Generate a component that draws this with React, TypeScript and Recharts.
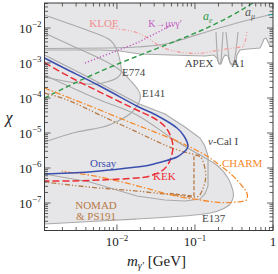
import React from 'react';
import { ComposedChart, Area, Line, XAxis, YAxis } from 'recharts';

const X_MIN = 1.18e-3;
const X_MAX = 1;
const Y_MIN = 1.64e-8;
const Y_MAX = 5.18e-2;

// plot box in page pixels (chart is pinned to the page origin)
const PLOT = { left: 44.5, right: 273, top: 3, bottom: 230.5 };

const SERIF = '"Liberation Serif", "DejaVu Serif", serif';
const AXIS = '#3a3a3a';
const FILL = '#e6e6e8';
const GREY = '#a9a9a9';
const BLUE = '#3b4fae';
const RED = '#ec2d36';
const ORANGE = '#f5892c';
const BROWN = '#b87a45';
const GREEN = '#2f9a48';
const MAGENTA = '#c25ac2';
const PINK = '#f49a9a';

// upper exclusion (a_mu, KLOE, APEX, A1, ...) : lower edge, runs up to the top
const topM = [1.18e-3, 6.05e-3, 1.09e-2, 1.97e-2, 4.78e-2, 0.134, 0.175, 0.191, 0.203, 0.216, 0.229, 0.243, 0.265, 0.281, 0.307, 0.336, 0.345, 0.378, 0.478, 0.681, 0.723, 0.767, 0.813, 0.863, 0.915, 1];
const topLo = [2.35e-3, 2.35e-3, 2.2e-3, 1.81e-3, 1.69e-3, 1.58e-3, 1.69e-3, 1.39e-3, 9.36e-4, 9.36e-4, 1.39e-3, 1.69e-3, 1.58e-3, 1.0e-3, 8.77e-4, 1.07e-3, 1.69e-3, 2.35e-3, 2.51e-3, 2.68e-3, 3.49e-3, 4.85e-3, 5.18e-3, 3.98e-3, 3.06e-3, 2.86e-3];

// beam dump regions: mass, upper and lower chi
const e774M = [1.18e-3, 2.5e-3, 5.22e-3, 8.13e-3, 1.0e-2, 1.09e-2, 1.14e-2];
const e774Hi = [2.35e-2, 1.3e-2, 7.2e-3, 4.54e-3, 2.35e-3, 1.22e-3, 5.91e-4];
const e774Lo = [3.98e-4, 2.86e-4, 2.51e-4, 3.06e-4, 3.73e-4, 4.54e-4, 5.91e-4];

const e141M = [1.18e-3, 3.07e-3, 6.62e-3, 1.09e-2, 1.47e-2, 1.8e-2, 2.0e-2];
const e141Hi = [7.2e-3, 2.68e-3, 1.22e-3, 6.31e-4, 3.27e-4, 1.93e-4, 1.07e-4];
const e141Lo = [5.53e-6, 1.07e-5, 1.48e-5, 2.35e-5, 3.49e-5, 5.91e-5, 1.07e-4];

const nuCalM = [1.18e-3, 4.51e-3, 1.8e-2, 4.12e-2, 7.44e-2, 0.116, 0.134, 0.147];
const nuCalHi = [1.69e-3, 3.73e-4, 7.2e-5, 3.49e-5, 1.48e-5, 7.2e-6, 4.25e-6, 2.2e-6];
const nuCalLo = [6.74e-7, 3.98e-7, 1.58e-7, 1.22e-7, 1.14e-7, 1.3e-7, 1.81e-7, 3.06e-7];

const e137M = [1.18e-3, 6.05e-3, 1.8e-2, 4.78e-2, 0.116, 0.197, 0.265, 0.294, 0.312];
const e137Hi = [4.54e-4, 8.77e-5, 3.27e-5, 7.69e-6, 2.35e-6, 1.14e-6, 5.18e-7, 3.06e-7, 1.69e-7];
const e137Lo = [2.51e-8, 3.06e-8, 3.49e-8, 3.98e-8, 4.69e-8, 5.91e-8, 8.21e-8, 1.07e-7, 1.69e-7];

// colored limits
const orsayM = [1.18e-3, 2.5e-3, 6.05e-3, 1.8e-2, 2.65e-2, 4.12e-2, 5.88e-2, 7.23e-2, 8.13e-2];
const orsayHi = [1.39e-3, 5.91e-4, 2.2e-4, 5.91e-5, 3.98e-5, 2.35e-5, 1.39e-5, 8.21e-6, 4.25e-6];
const orsayLo = [6.74e-7, 7.2e-7, 8.21e-7, 1.07e-6, 1.22e-6, 1.58e-6, 2.06e-6, 2.86e-6, 4.25e-6];

const kekM = [1.18e-3, 2.5e-3, 6.05e-3, 1.8e-2, 2.65e-2, 3.56e-2, 4.38e-2, 4.92e-2, 5.22e-2];
const kekHi = [1.03e-3, 3.98e-4, 1.48e-4, 4.54e-5, 3.06e-5, 2.06e-5, 1.3e-5, 7.69e-6, 3.98e-6];
const kekLo = [4.25e-7, 4.25e-7, 4.54e-7, 5.18e-7, 5.91e-7, 7.69e-7, 1.14e-6, 1.93e-6, 3.98e-6];

const charmM = [1.18e-3, 2.5e-3, 6.05e-3, 1.8e-2, 4.78e-2, 0.116, 0.191, 0.298, 0.401, 0.464, 0.464, 0.389, 0.216, 0.116, 6.62e-2, 3.56e-2, 1.86e-2, 6.05e-3, 2.9e-3, 1.97e-3];
const charmChi = [1.93e-4, 1.0e-4, 4.54e-5, 1.69e-5, 7.2e-6, 2.86e-6, 1.39e-6, 6.31e-7, 3.06e-7, 1.93e-7, 1.3e-7, 1.1e-7, 1.03e-7, 1.22e-7, 1.48e-7, 2.06e-7, 3.06e-7, 5.53e-7, 7.2e-7, 8.21e-7];

const ps191M = [1.18e-3, 2.5e-3, 6.05e-3, 1.8e-2, 4.38e-2, 7.44e-2, 0.106, 0.123, 0.134, 0.136, 0.123, 0.103, 6.43e-2, 3.56e-2, 1.8e-2, 6.05e-3, 2.5e-3, 1.18e-3];
const ps191Chi = [1.39e-4, 8.21e-5, 3.27e-5, 1.07e-5, 4.25e-6, 2.86e-6, 2.28e-6, 1.81e-6, 1.0e-6, 4.54e-7, 2.2e-7, 1.48e-7, 1.64e-7, 1.87e-7, 2.2e-7, 2.68e-7, 3.27e-7, 3.98e-7];

const nomadM = [4.78e-2, 9.71e-2, 9.71e-2, 0.116];
const nomadChi = [1.87e-7, 1.58e-7, 2.2e-6, 2.43e-6];

const aeM = [1.18e-3, 8.89e-3, 0.116, 0.554];
const aeChi = [1.0e-4, 8.21e-4, 8.21e-3, 5.18e-2];

const amuM = [1.18e-3, 8.13e-3, 1.86e-2, 3.07e-2, 4.78e-2, 0.127, 0.345, 1];
const amuChi = [2.6e-3, 2.68e-3, 2.86e-3, 3.16e-3, 3.73e-3, 7.2e-3, 1.39e-2, 2.51e-2];

const kmuM = [3.89e-3, 1.8e-2, 5.07e-2];
const kmuChi = [1.0e-3, 3.73e-3, 1.22e-2];

const kloeM = [8.13e-3, 1.86e-2, 3.07e-2, 4.78e-2, 7.89e-2, 0.127, 0.209, 0.378, 0.425, 0.451, 0.464];
const kloeChi = [1.0e-2, 7.2e-3, 3.73e-3, 2.35e-3, 1.93e-3, 1.93e-3, 2.35e-3, 2.86e-3, 3.27e-3, 5.18e-3, 8.77e-3];

const apexM = [0.186, 0.191, 0.197, 0.206, 0.216, 0.222, 0.229];
const apexChi = [7.69e-3, 2.35e-3, 1.22e-3, 9.36e-4, 1.22e-3, 2.68e-3, 7.69e-3];
const a1M = [0.25, 0.265, 0.281, 0.298, 0.316, 0.336, 0.356];
const a1Chi = [7.69e-3, 2.35e-3, 1.07e-3, 8.77e-4, 1.07e-3, 2.35e-3, 7.69e-3];

const babarM = [0.863, 1];
const babarChi = [2.35e-2, 2.45e-2];

// tick decades
const xDecades = [-3, -2, -1, 0];
const yDecades = [-8, -7, -6, -5, -4, -3, -2];
const tickSteps = [1, 2, 3, 4, 5, 6, 7, 8, 9];

const logTicks = (decades: number[], lo: number, hi: number) => {
  const out: number[] = [];
  decades.forEach((e) => tickSteps.forEach((k) => {
    const v = k * Math.pow(10, e);
    if (v >= lo * 0.9999 && v <= hi * 1.0001) out.push(v);
  }));
  return out;
};
const xTicks = logTicks(xDecades, X_MIN, X_MAX);
const yTicks = logTicks(yDecades, Y_MIN, Y_MAX);
const isMajor = (v: number) => Math.abs(Math.log10(v) - Math.round(Math.log10(v))) < 1e-6;

const band = (m: number[], lo: number[], hi: number[]) => m.map((x, i) => ({ m: x, r: [lo[i], hi[i]] }));
const path = (m: number[], c: number[]) => m.map((x, i) => ({ m: x, c: c[i] }));
const loop = (m: number[], hi: number[], lo: number[]) => {
  const n = m.length - 1;
  const back = m.map((x, i) => ({ m: x, c: lo[i] })).reverse();
  return [...path(m, hi), ...(hi[n] === lo[n] ? back.slice(1) : back)];
};

function YTick(props: any) {
  const { y, payload } = props;
  const v = payload.value;
  const major = isMajor(v);
  const len = major ? 6 : 3.5;
  const e = Math.round(Math.log10(v));
  return (
    <g>
      <line x1={PLOT.left} x2={PLOT.left + len} y1={y} y2={y} stroke={AXIS} strokeWidth={0.8} />
      <line x1={PLOT.right - len} x2={PLOT.right} y1={y} y2={y} stroke={AXIS} strokeWidth={0.8} />
      {major && (
        <text x={41.5} y={y + 4.5} textAnchor="end" fontFamily={SERIF} fontSize={13} fill="#222">
          10<tspan dy={-5.5} fontSize={9}>{'\u2212' + Math.abs(e)}</tspan>
        </text>
      )}
    </g>
  );
}

function XTick(props: any) {
  const { x, payload } = props;
  const v = payload.value;
  const major = isMajor(v);
  const len = major ? 6 : 3.5;
  const e = Math.round(Math.log10(v));
  return (
    <g>
      <line x1={x} x2={x} y1={PLOT.bottom - len} y2={PLOT.bottom} stroke={AXIS} strokeWidth={0.8} />
      <line x1={x} x2={x} y1={PLOT.top} y2={PLOT.top + len} stroke={AXIS} strokeWidth={0.8} />
      {major && (
        <text x={x} y={246} textAnchor="middle" fontFamily={SERIF} fontSize={13} fill="#222">
          {e === 0 ? '1' : '10'}
          {e !== 0 && <tspan dy={-5.5} fontSize={9}>{'\u2212' + Math.abs(e)}</tspan>}
        </text>
      )}
    </g>
  );
}

const regionFill = (data: any[], key: string) => (
  <Area key={key} data={data} dataKey="r" type="linear" fill={FILL} fillOpacity={1} stroke="none" isAnimationActive={false} />
);

const curve = (key: string, data: any[], color: string, width: number, dash?: string, type: any = 'natural') => (
  <Line key={key} data={data} dataKey="c" type={type} stroke={color} strokeWidth={width} strokeDasharray={dash}
    dot={false} activeDot={false} isAnimationActive={false} />
);

function Labels() {
  const t = { fontFamily: SERIF, fontSize: 11 };
  return (
    <svg width={278} height={274} style={{ position: 'absolute', left: 0, top: 0, pointerEvents: 'none' }}>
      <rect x={PLOT.left} y={PLOT.top} width={PLOT.right - PLOT.left} height={PLOT.bottom - PLOT.top} fill="none" stroke={AXIS} strokeWidth={1} />
      <text {...t} x={104} y={27} textAnchor="middle" fill="#f28c8c">KLOE</text>
      <text {...t} fontSize={10} x={165} y={27} textAnchor="middle" fill={MAGENTA}>{'K\u2192\u03bc\u03bd\u03b3\u2032'}</text>
      <text {...t} fontSize={12} x={203} y={20} fill={GREEN}><tspan fontStyle="italic">a</tspan><tspan dy={3} fontSize={8} fontStyle="italic">e</tspan></text>
      <text {...t} fontSize={12} x={245} y={16} fill="#555"><tspan fontStyle="italic">a</tspan><tspan dy={3} fontSize={8} fontStyle="italic">{'\u03bc'}</tspan></text>
      <text {...t} x={199} y={67} textAnchor="middle" fill="#444">APEX</text>
      <text {...t} x={238} y={67} textAnchor="middle" fill="#444">A1</text>
      <text {...t} x={122} y={76} fill="#444">E774</text>
      <text {...t} x={142} y={97} fill="#444">E141</text>
      <text {...t} x={208} y={145} fill="#444"><tspan fontStyle="italic">{'\u03bd'}</tspan>-Cal I</text>
      <text {...t} x={222} y={167} fill={ORANGE}>CHARM</text>
      <text {...t} x={90} y={167} fill={BLUE}>Orsay</text>
      <text {...t} x={153} y={180} fill={RED}>KEK</text>
      <text {...t} x={96} y={209} textAnchor="middle" fill={BROWN}>NOMAD</text>
      <text {...t} x={96} y={220} textAnchor="middle" fill={BROWN}>{'& PS191'}</text>
      <text {...t} x={202} y={222} fill="#444">E137</text>
      <text fontFamily={SERIF} fontSize={16} fontStyle="italic" x={9} y={123} textAnchor="middle" fill="#222">{'\u03c7'}</text>
      <text fontFamily={SERIF} fontSize={15} x={127} y={266} fill="#222">
        <tspan fontStyle="italic">m</tspan>
        <tspan dy={3} fontSize={10} fontStyle="italic">{'\u03b3\u2032'}</tspan>
        <tspan dy={-3}>{' [GeV]'}</tspan>
      </text>
    </svg>
  );
}

export default function App() {
  return (
    <div style={{ position: 'absolute', left: 0, top: 0, width: 278, height: 274, background: '#fff' }}>
      <ComposedChart width={278} height={274} margin={{ top: 3, right: 5, bottom: 0, left: 0 }}>
        {regionFill(band(topM, topLo, topM.map(() => Y_MAX)), 'top')}
        {regionFill(band(e137M, e137Lo, e137Hi), 'e137')}
        {regionFill(band(nuCalM, nuCalLo, nuCalHi), 'nucal')}
        {regionFill(band(e141M, e141Lo, e141Hi), 'e141')}
        {regionFill(band(e774M, e774Lo, e774Hi), 'e774')}

        {curve('topEdge', path(topM, topLo), GREY, 1.1, undefined, 'linear')}
        {curve('e137', loop(e137M, e137Hi, e137Lo), GREY, 1.1)}
        {curve('nucal', loop(nuCalM, nuCalHi, nuCalLo), GREY, 1.1, undefined, 'linear')}
        {curve('e141', loop(e141M, e141Hi, e141Lo), GREY, 1.1)}
        {curve('e774', loop(e774M, e774Hi, e774Lo), GREY, 1.1)}
        {curve('amu', path(amuM, amuChi), GREY, 1.1)}
        {curve('apex', path(apexM, apexChi), GREY, 1.1)}
        {curve('a1', path(a1M, a1Chi), GREY, 1.1)}
        {curve('babar', path(babarM, babarChi), '#2a9d9d', 1.2, undefined, 'linear')}

        {curve('kloe', path(kloeM, kloeChi), PINK, 1.2, '4 2 1 2 1 2')}
        {curve('kmu', path(kmuM, kmuChi), MAGENTA, 1.4, '1.2 2', 'linear')}
        {curve('ae', path(aeM, aeChi), GREEN, 1.4, '5 3')}
        {curve('ps191', path(ps191M, ps191Chi), BROWN, 1.3, '5 2 1.3 2 1.3 2')}
        {curve('nomad', path(nomadM, nomadChi), BROWN, 1.3, '4 2', 'linear')}
        {curve('charm', path(charmM, charmChi), ORANGE, 1.3, '6 2 1.5 2')}
        {curve('kek', loop(kekM, kekHi, kekLo), RED, 1.5, '7 3')}
        {curve('orsay', loop(orsayM, orsayHi, orsayLo), BLUE, 1.5)}

        <XAxis type="number" dataKey="m" scale="log" domain={[X_MIN, X_MAX]} allowDataOverflow ticks={xTicks}
          interval={0} tick={<XTick />} tickLine={false} axisLine={false} height={43.5} />
        <YAxis type="number" scale="log" domain={[Y_MIN, Y_MAX]} allowDataOverflow ticks={yTicks}
          interval={0} tick={<YTick />} tickLine={false} axisLine={false} width={44.5} />
      </ComposedChart>
      <Labels />
    </div>
  );
}
